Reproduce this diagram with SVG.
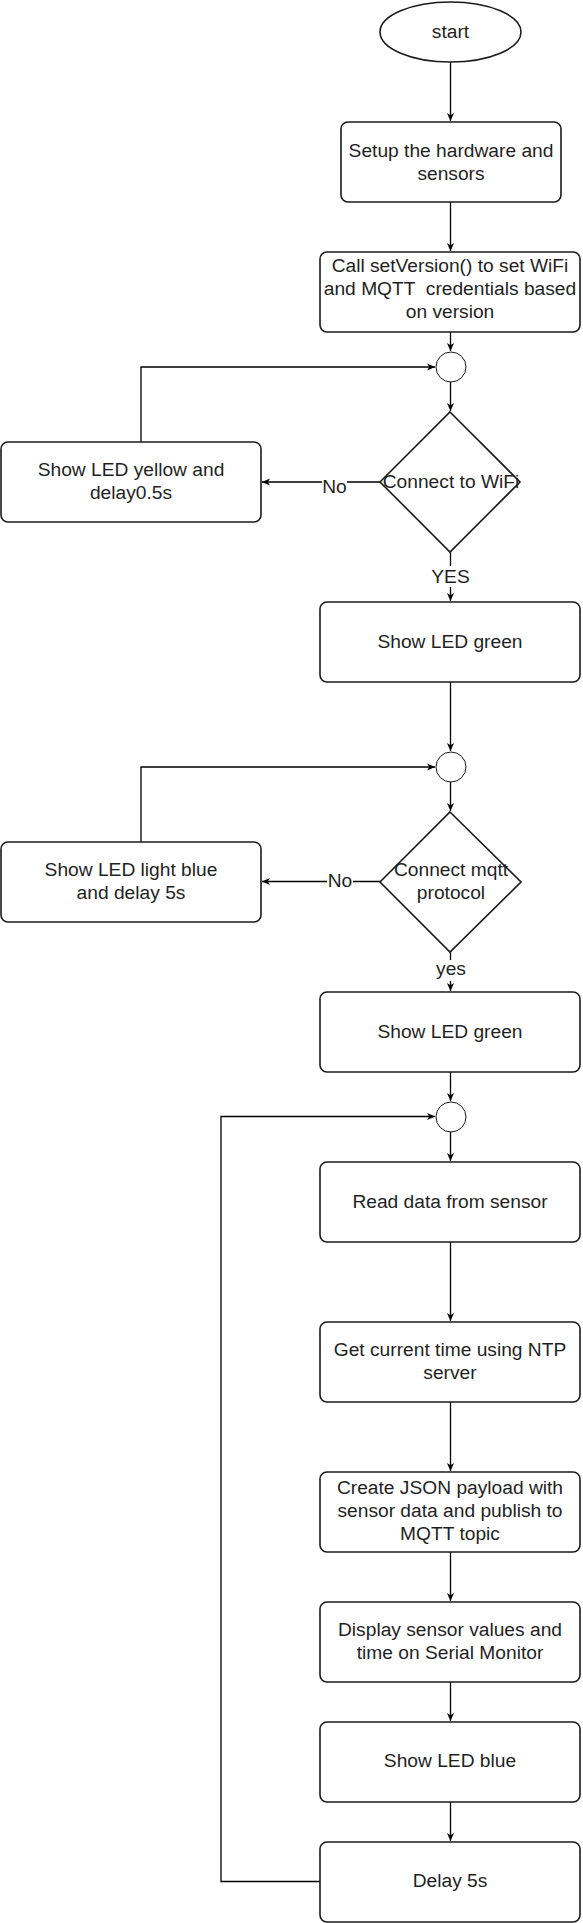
<svg xmlns="http://www.w3.org/2000/svg" width="583" height="1923" viewBox="0 0 583 1923">
<style>
.box{fill:#fff;stroke:#1a1a1a;stroke-width:1.6}
.dia{fill:#fff;stroke:#1a1a1a;stroke-width:1.6}
.jn{fill:#fff;stroke:#1a1a1a;stroke-width:1}
.ln{fill:none;stroke:#000;stroke-width:1.3}
text{font-family:"Liberation Sans",Arial,Helvetica,sans-serif;font-size:19.2px;fill:#1f1f1f;text-anchor:middle}
.bg{fill:#fff;stroke:none}
</style>
<defs>
<marker id="arr" markerUnits="userSpaceOnUse" markerWidth="10" markerHeight="10" viewBox="0 0 10 10" refX="9" refY="5" orient="auto">
<path d="M1,1.4 L9,5 L1,8.6 L3.3,5 z" fill="#000"/>
</marker>
</defs>
<g id="connectors">
<path class="ln" d="M450.5,62 V121" marker-end="url(#arr)"/>
<path class="ln" d="M450.5,202 V251" marker-end="url(#arr)"/>
<path class="ln" d="M450.5,332 V351" marker-end="url(#arr)"/>
<path class="ln" d="M450.5,382 V411" marker-end="url(#arr)"/>
<path class="ln" d="M380,482 H262" marker-end="url(#arr)"/>
<path class="ln" d="M141,442 V367 H435" marker-end="url(#arr)"/>
<path class="ln" d="M450.5,552 V601" marker-end="url(#arr)"/>
<path class="ln" d="M450.5,682 V751" marker-end="url(#arr)"/>
<path class="ln" d="M450.5,782 V811" marker-end="url(#arr)"/>
<path class="ln" d="M380,881.5 H262" marker-end="url(#arr)"/>
<path class="ln" d="M141,842 V767 H435" marker-end="url(#arr)"/>
<path class="ln" d="M450.5,952 V991" marker-end="url(#arr)"/>
<path class="ln" d="M450.5,1071 V1101" marker-end="url(#arr)"/>
<path class="ln" d="M450.5,1132 V1161" marker-end="url(#arr)"/>
<path class="ln" d="M450.5,1242 V1321" marker-end="url(#arr)"/>
<path class="ln" d="M450.5,1402 V1471" marker-end="url(#arr)"/>
<path class="ln" d="M450.5,1552 V1601" marker-end="url(#arr)"/>
<path class="ln" d="M450.5,1681 V1721" marker-end="url(#arr)"/>
<path class="ln" d="M450.5,1802 V1841" marker-end="url(#arr)"/>
<path class="ln" d="M320,1881.5 H221 V1116.5 H435" marker-end="url(#arr)"/>
<g id="labels">
<rect class="bg" x="322" y="476" width="25" height="19"/>
<text x="334.5" y="493">No</text>
<rect class="bg" x="430" y="566" width="42" height="21"/>
<text x="450.5" y="583">YES</text>
<rect class="bg" x="327" y="872" width="26" height="18"/>
<text x="340" y="887">No</text>
<rect class="bg" x="436" y="960" width="30" height="21"/>
<text x="451" y="975">yes</text>
</g>
</g>
<g id="start">
<ellipse class="box" cx="450.5" cy="32" rx="70.5" ry="30"/>
<text x="450.5" y="37.5">start</text>
</g>
<g id="setup">
<rect class="box" x="341" y="122" width="220" height="80" rx="7"/>
<text x="451" y="156.5">Setup the hardware and</text>
<text x="451" y="179.5">sensors</text>
</g>
<g id="setversion">
<rect class="box" x="320" y="252" width="260" height="80" rx="7"/>
<text x="450" y="271.5">Call setVersion() to set WiFi</text>
<text x="450" y="294.5" xml:space="preserve">and MQTT  credentials based</text>
<text x="450" y="317.5">on version</text>
</g>
<g id="junction1">
<circle class="jn" cx="451" cy="367" r="15"/>
</g>
<g id="wifi">
<polygon class="dia" points="450,412 520,482 450,552 380,482"/>
<text x="451" y="487.5">Connect to WiFi</text>
</g>
<g id="yellow">
<rect class="box" x="1" y="442" width="260" height="80" rx="7"/>
<text x="131" y="476">Show LED yellow and</text>
<text x="131" y="499">delay0.5s</text>
</g>
<g id="green1">
<rect class="box" x="320" y="602" width="260" height="80" rx="7"/>
<text x="450" y="647.5">Show LED green</text>
</g>
<g id="junction2">
<circle class="jn" cx="451" cy="767" r="15"/>
</g>
<g id="mqtt">
<polygon class="dia" points="450,812 521,882 450,952 380,882"/>
<text x="451" y="876">Connect mqtt</text>
<text x="451" y="899">protocol</text>
</g>
<g id="lightblue">
<rect class="box" x="1" y="842" width="260" height="80" rx="7"/>
<text x="131" y="876">Show LED light blue</text>
<text x="131" y="899">and delay 5s</text>
</g>
<g id="green2">
<rect class="box" x="320" y="992" width="260" height="80" rx="7"/>
<text x="450" y="1037.5">Show LED green</text>
</g>
<g id="junction3">
<circle class="jn" cx="451" cy="1117" r="15"/>
</g>
<g id="read">
<rect class="box" x="320" y="1162" width="260" height="80" rx="7"/>
<text x="450" y="1207.5">Read data from sensor</text>
</g>
<g id="ntp">
<rect class="box" x="320" y="1322" width="260" height="80" rx="7"/>
<text x="450" y="1356">Get current time using NTP</text>
<text x="450" y="1379">server</text>
</g>
<g id="json">
<rect class="box" x="320" y="1472" width="260" height="80" rx="7"/>
<text x="450" y="1493.5">Create JSON payload with</text>
<text x="450" y="1516.5">sensor data and publish to</text>
<text x="450" y="1539.5">MQTT topic</text>
</g>
<g id="display">
<rect class="box" x="320" y="1602" width="260" height="80" rx="7"/>
<text x="450" y="1635.5">Display sensor values and</text>
<text x="450" y="1658.5">time on Serial Monitor</text>
</g>
<g id="blue">
<rect class="box" x="320" y="1722" width="260" height="80" rx="7"/>
<text x="450" y="1767">Show LED blue</text>
</g>
<g id="delay">
<rect class="box" x="320" y="1842" width="260" height="80" rx="7"/>
<text x="450" y="1887">Delay 5s</text>
</g>
</svg>
